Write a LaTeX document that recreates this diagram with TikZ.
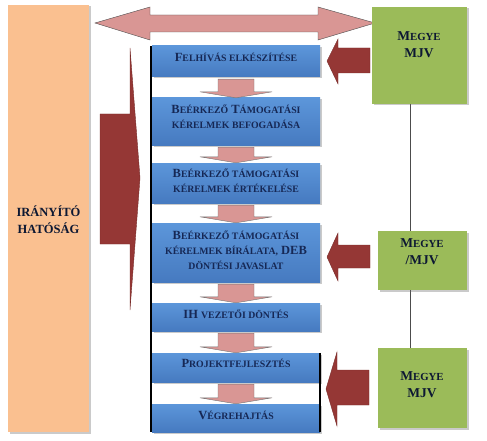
\documentclass[tikz,border=0pt]{standalone}
\usepackage{fontspec}
\setmainfont{Liberation Serif}
\usetikzlibrary{shadows,calc}
\definecolor{navy}{RGB}{22,40,85}
\definecolor{bluetop}{RGB}{92,150,218}
\definecolor{bluebot}{RGB}{70,122,192}
\definecolor{grn}{RGB}{155,187,89}
\definecolor{orng}{RGB}{250,192,144}
\definecolor{dred}{RGB}{149,55,53}
\definecolor{pnk}{RGB}{217,150,148}
\newcommand\Sm[1]{{\fontsize{9.8}{15}\selectfont #1}}
\newcommand\Gs[1]{{\fontsize{10.8}{17}\selectfont #1}}
\tikzset{
  shd/.style={drop shadow={shadow xshift=1.5pt,shadow yshift=-1.5pt,opacity=0.35,fill=black!60}},
  bluebox/.style={shd,top color=bluetop,bottom color=bluebot,draw=none,minimum width=168pt,inner sep=0pt},
  txt/.style={font=\bfseries\fontsize{12.5}{15}\selectfont,text=navy,align=center,inner sep=0pt},
  gtxt/.style={font=\bfseries\fontsize{13.5}{17}\selectfont,text=navy!60!black,align=center,inner sep=0pt},
  grnbox/.style={shd,fill=grn,draw=none,inner sep=0pt},
  redarrow/.style={fill=dred,draw=dred!80!black,line width=0.4pt},
  pinkarrow/.style={fill=pnk,draw=black!55,line width=0.4pt},
}
\begin{document}
\begin{tikzpicture}[x=1pt,y=-1pt]
\useasboundingbox (0,0) rectangle (487,441);
% orange
\node[shd,fill=orng,minimum width=81pt,minimum height=427pt,inner sep=0pt] (ih) at (48.5,218.5) {};
\node[gtxt,font=\bfseries\fontsize{12.5}{17}\selectfont] (iht) at (48.5,219.5) {IRÁNYÍTÓ\\HATÓSÁG};
% top double arrow
\draw[pinkarrow,draw=black!70] (95,23) -- (150,7) -- (150,15) -- (318,15) -- (318,7) -- (375,23)
  -- (318,40) -- (318,32) -- (150,32) -- (150,40) -- cycle;
% vertical line
\draw[black!70,line width=0.6pt] (410,104) -- (410,348);
% green boxes
\node[grnbox,minimum width=95pt,minimum height=97pt] (g1) at (419.5,55.5) {};
\node[gtxt] (g1t) at (419,45) {M\Gs{EGYE}\\MJV};
\node[grnbox,minimum width=89pt,minimum height=59pt] (g2) at (422.5,260.5) {};
\node[gtxt] (g2t) at (422,251.5) {M\Gs{EGYE}\\/MJV};
\node[grnbox,minimum width=89pt,minimum height=80pt] (g3) at (422.5,388) {};
\node[gtxt] (g3t) at (422,385) {M\Gs{EGYE}\\MJV};
% blue boxes
\node[bluebox,minimum height=31pt] (b1) at (236,61.5) {};
\node[txt] (t1) at (236,57.5) {F\Sm{ELHÍVÁS ELKÉSZÍTÉSE}};
\node[bluebox,minimum height=47pt] (b2) at (236,121.5) {};
\node[txt] (t2) at (236,116.5) {B\Sm{EÉRKEZŐ} T\Sm{ÁMOGATÁSI}\\\Sm{KÉRELMEK BEFOGADÁSA}};
\node[bluebox,minimum height=40pt] (b3) at (236,183) {};
\node[txt] (t3) at (236,181) {B\Sm{EÉRKEZŐ TÁMOGATÁSI}\\\Sm{KÉRELMEK ÉRTÉKELÉSE}};
\node[bluebox,minimum height=59pt] (b4) at (236,252.5) {};
\node[txt] (t4) at (236,250.5) {B\Sm{EÉRKEZŐ TÁMOGATÁSI}\\\Sm{KÉRELMEK BÍRÁLATA,} DEB\\\Sm{DÖNTÉSI JAVASLAT}};
\node[bluebox,minimum height=28pt] (b5) at (236,317) {};
\node[txt] (t5) at (236,314) {IH \Sm{VEZETŐI DÖNTÉS}};
\node[bluebox,minimum height=29pt] (b6) at (236,367.5) {};
\node[txt] (t6) at (236,363.5) {P\Sm{ROJEKTFEJLESZTÉS}};
\node[bluebox,minimum height=28pt] (b7) at (236,418) {};
\node[txt] (t7) at (236,415) {V\Sm{ÉGREHAJTÁS}};
% black lines
\draw[line width=1.8pt] ($(b1.north west)+(-0.5,0)$) -- ($(b7.south west)+(-0.5,0)$);
\draw[line width=1.8pt] ($(b6.north east)+(-0.5,0)$) -- ($(b7.south east)+(-0.5,0)$);
% pink down arrows
\foreach \pa/\pb in {b1/b2,b2/b3,b3/b4,b4/b5,b5/b6,b6/b7}{
  \draw[pinkarrow] ($(\pa.south)+(-18,2)$) -- ($(\pa.south)+(18,2)$) -- ($(\pb.north)+(18,-6)$)
    -- ($(\pb.north)+(36,-6)$) -- (\pb.north) -- ($(\pb.north)+(-36,-6)$) -- ($(\pb.north)+(-18,-6)$) -- cycle;
}
% dark red arrows from green boxes
\draw[redarrow] (327,61) -- (338,39) -- (338,48) -- (370,48) -- (370,73) -- (338,73) -- (338,84) -- cycle;
\draw[redarrow] (327,257) -- (338,233) -- (338,245) -- (370,245) -- (370,268) -- (338,268) -- (338,281) -- cycle;
\draw[redarrow] (326,389) -- (337,352) -- (337,370) -- (369,370) -- (369,405) -- (337,405) -- (337,426) -- cycle;
% big chevron
\draw[redarrow] (100,114) -- (130,114) -- (130,48) -- (140,178) -- (130,310) -- (130,244) -- (100,244) -- cycle;
\end{tikzpicture}
\end{document}
